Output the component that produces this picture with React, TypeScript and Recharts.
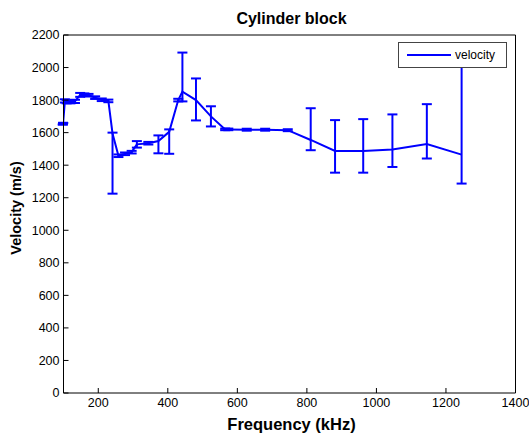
import { ErrorBar, Legend, Line, LineChart, XAxis, YAxis } from "recharts";

const FONT = '"Liberation Sans", Arial, Helvetica, sans-serif';
const BLUE = "#0000ff";

// frequency (kHz) of each measurement
const freq = [
  98, 99, 104, 109, 120, 133, 148, 160, 172, 191, 210, 229, 241, 258, 277, 296, 311, 344, 373, 404,
  430, 442, 481, 524, 565, 574, 627, 680, 745, 811, 881, 962, 1046, 1145, 1245,
];
// velocity (m/s)
const velocity = [
  1650, 1660, 1795, 1790, 1788, 1792, 1832, 1833, 1830, 1815, 1802, 1795, 1595, 1458, 1470, 1480,
  1528, 1535, 1548, 1605, 1800, 1852, 1800, 1700, 1620, 1620, 1618, 1618, 1615, 1555, 1487, 1487,
  1497, 1530, 1465,
];
// error below / above each point (first two sit just left of the axis, stems hidden)
const errLow = [
  0, 0, 10, 10, 8, 10, 12, 8, 8, 8, 8, 8, 370, 8, 8, 8, 20, 8, 75, 135, 8, 60, 125, 62, 5, 5,
  6, 6, 6, 63, 133, 133, 108, 89, 178,
];
const errHigh = [
  0, 0, 10, 10, 8, 10, 12, 8, 8, 8, 8, 8, 5, 8, 8, 8, 20, 8, 35, 15, 8, 240, 133, 62, 5, 5, 6,
  6, 6, 195, 190, 196, 215, 245, 640,
];

const xTicks = [200, 400, 600, 800, 1000, 1200, 1400];
const yTicks = [0, 200, 400, 600, 800, 1000, 1200, 1400, 1600, 1800, 2000, 2200];

const data = freq.map((f, i) => ({
  f,
  v: velocity[i],
  err: [errLow[i], errHigh[i]],
}));

const tickStyle = { fill: "#000", fontSize: 12.5, fontFamily: FONT };
const blank = () => "";

function LegendBox() {
  return (
    <div
      style={{
        width: 107,
        height: 24,
        border: "1px solid #444",
        background: "#fff",
        display: "flex",
        alignItems: "center",
        fontFamily: FONT,
        fontSize: 12,
        color: "#000",
        boxSizing: "content-box",
      }}
    >
      <svg width={44} height={4} style={{ marginLeft: 8 }}>
        <line x1={0} y1={2} x2={44} y2={2} stroke={BLUE} strokeWidth={2} />
      </svg>
      <span style={{ marginLeft: 4 }}>velocity</span>
    </div>
  );
}

export default function App() {
  return (
    <div style={{ position: "absolute", left: 0, top: 0, width: 529, height: 435, background: "#fff" }}>
      <LineChart width={529} height={435} data={data} margin={{ top: 0, right: 0, bottom: 0, left: 0 }}>
        <XAxis
          dataKey="f"
          type="number"
          domain={[100, 1400]}
          ticks={xTicks}
          interval={0}
          allowDataOverflow
          height={42}
          tickSize={-5}
          tickMargin={10}
          stroke="#000"
          tick={tickStyle}
          label={(p: any) => (
            <text
              x={p.viewBox.x + p.viewBox.width / 2 + 2}
              y={p.viewBox.y + 37}
              textAnchor="middle"
              fontFamily={FONT}
              fontWeight="bold"
              fontSize={16.5}
              fill="#000"
            >
              Frequency (kHz)
            </text>
          )}
        />
        <XAxis
          xAxisId="top"
          orientation="top"
          type="number"
          domain={[100, 1400]}
          ticks={xTicks}
          interval={0}
          allowDataOverflow
          height={35}
          tickSize={-5}
          tickFormatter={blank}
          stroke="#000"
          label={(p: any) => (
            <text
              x={p.viewBox.x + p.viewBox.width / 2 + 2}
              y={p.viewBox.y + p.viewBox.height - 11}
              textAnchor="middle"
              fontFamily={FONT}
              fontWeight="bold"
              fontSize={16}
              fill="#000"
            >
              Cylinder block
            </text>
          )}
        />
        <YAxis
          type="number"
          domain={[0, 2200]}
          ticks={yTicks}
          interval={0}
          width={63.5}
          tickSize={-5}
          tickMargin={9}
          stroke="#000"
          tick={tickStyle}
          label={(p: any) => {
            const cx = p.viewBox.x + 21;
            const cy = p.viewBox.y + p.viewBox.height / 2 - 6;
            return (
              <text
                x={cx}
                y={cy}
                transform={`rotate(-90, ${cx}, ${cy})`}
                textAnchor="middle"
                fontFamily={FONT}
                fontWeight="bold"
                fontSize={14.5}
                fill="#000"
              >
                Velocity (m/s)
              </text>
            );
          }}
        />
        <YAxis
          yAxisId="right"
          orientation="right"
          type="number"
          domain={[0, 2200]}
          ticks={yTicks}
          interval={0}
          width={13.5}
          tickSize={-5}
          tickFormatter={blank}
          stroke="#000"
        />
        <Legend
          layout="horizontal"
          verticalAlign="middle"
          align="center"
          wrapperStyle={{ left: 398, top: 42, width: 109 }}
          content={() => <LegendBox />}
        />
        <Line
          type="linear"
          dataKey="v"
          name="velocity"
          stroke={BLUE}
          strokeWidth={2}
          dot={false}
          activeDot={false}
          isAnimationActive={false}
        >
          <ErrorBar dataKey="err" direction="y" width={5} stroke={BLUE} strokeWidth={2} isAnimationActive={false} />
        </Line>
      </LineChart>
    </div>
  );
}
